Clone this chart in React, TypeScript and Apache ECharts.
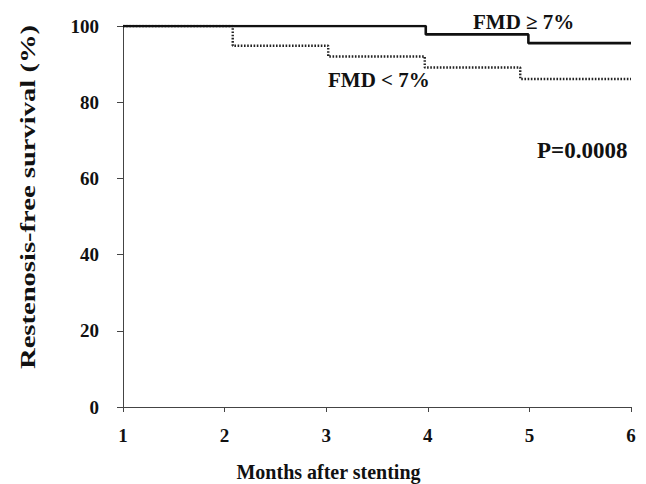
import React, { useEffect, useRef } from "react";
import * as echarts from "echarts";

const monthTicks = [1, 2, 3, 4, 5, 6];
const highTimes = [1, 3.98, 4.99, 6];
const highSurvival = [100, 97.8, 95.5, 95.5];
const lowTimes = [1, 2.08, 3.02, 3.97, 4.91, 6];
const lowSurvival = [100, 94.8, 92.0, 89.1, 86.1, 86.1];
const labelHigh = "FMD ≥ 7%";
const labelLow = "FMD < 7%";
const pText = "P=0.0008";
const xTitle = "Months after stenting";
const yTitle = "Restenosis-free survival (%)";

const FONT = "'Liberation Serif', 'Times New Roman', serif";

export default function App() {
  const ref = useRef<HTMLDivElement>(null);
  useEffect(() => {
    if (!ref.current) return;
    document.body.style.margin = "0";
    document.body.style.overflow = "hidden";
    const chart = echarts.init(ref.current, undefined, { renderer: "svg" });
    const pair = (t: number[], v: number[]) => t.map((x, i) => [x, v[i]]);
    const txt = (text: string, x: number, y: number, size: number, align = "left") => ({
      type: "text",
      x,
      y,
      style: {
        text,
        fontFamily: FONT,
        fontWeight: "bold",
        fontSize: size,
        fill: "#111",
        align,
        verticalAlign: "middle",
      },
    });
    chart.setOption({
      animation: false,
      backgroundColor: "#ffffff",
      grid: { left: 123, right: 15, top: 26, bottom: 77 },
      xAxis: {
        type: "value",
        min: 1,
        max: 6,
        interval: 1,
        axisLine: { lineStyle: { color: "#444", width: 1 } },
        axisTick: { inside: false, length: 5, lineStyle: { color: "#444" } },
        axisLabel: {
          fontFamily: FONT,
          fontWeight: "bold",
          fontSize: 19,
          color: "#111",
          margin: 19,
          formatter: (v: number) => (monthTicks.includes(v) ? String(v) : ""),
        },
        splitLine: { show: false },
      },
      yAxis: {
        type: "value",
        min: 0,
        max: 100,
        interval: 20,
        axisLine: { show: true, lineStyle: { color: "#444", width: 1 } },
        axisTick: { show: true, inside: false, length: 6, lineStyle: { color: "#444" } },
        axisLabel: { fontFamily: FONT, fontWeight: "bold", fontSize: 19, color: "#111", margin: 24 },
        splitLine: { show: false },
      },
      series: [
        {
          type: "line",
          name: labelLow,
          step: "end",
          data: pair(lowTimes, lowSurvival),
          showSymbol: false,
          lineStyle: { color: "#222", width: 2.4, type: [1.6, 1.6] },
          z: 2,
        },
        {
          type: "line",
          name: labelHigh,
          step: "end",
          data: pair(highTimes, highSurvival),
          showSymbol: false,
          lineStyle: { color: "#111", width: 2.6 },
          z: 3,
        },
      ],
      graphic: [
        txt(labelHigh, 473, 21.5, 21),
        txt(labelLow, 328, 79.5, 21),
        txt(pText, 537, 150, 23),
        txt(xTitle, 328.5, 472, 20, "center"),
        {
          type: "text",
          x: 28,
          y: 197,
          rotation: Math.PI / 2,
          scaleX: 1.3,
          scaleY: 1,
          style: {
            text: yTitle,
            fontFamily: FONT,
            fontWeight: "bold",
            fontSize: 22,
            fill: "#111",
            align: "center",
            verticalAlign: "middle",
          },
        },
      ],
    });
    return () => chart.dispose();
  }, []);
  return (
    <div
      ref={ref}
      style={{ position: "absolute", left: 0, top: 0, width: 646, height: 484 }}
    />
  );
}
